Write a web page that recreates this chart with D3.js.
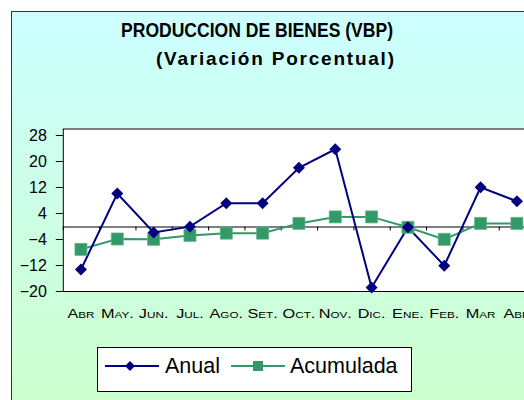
<!DOCTYPE html>
<html>
<head>
<meta charset="utf-8">
<script src="https://cdn.jsdelivr.net/npm/d3@7"></script>
<style>
  body { margin: 0; background: #fff; }
  svg { display: block; font-family: Arial, "Liberation Sans", sans-serif; }
  .y-axis text { font-size: 16px; fill: #000; }
  .x-labels text { font-size: 12.5px; font-variant: small-caps; fill: #000; }
</style>
</head>
<body>
<svg id="chart" width="524" height="400"></svg>
<script>
const months = ['Abr', 'May.', 'Jun.', 'Jul.', 'Ago.', 'Set.', 'Oct.', 'Nov.', 'Dic.', 'Ene.', 'Feb.', 'Mar', 'Abr'];
const anual = [-13.4, 10, -2, -0.2, 7, 7, 17.9, 23.6, -18.9, -0.4, -12.2, 11.9, 7.6];
const acumulada = [-7.2, -4, -4.1, -2.9, -2.2, -2.2, 0.8, 2.8, 2.8, -0.4, -4.1, 0.8, 0.8];
const yTicks = [-20, -12, -4, 4, 12, 20, 28];

const navy = '#000080';
const green = '#339966';

const plot = { left: 62.8, top: 128.5, bottom: 291, band: 36.33 };

const svg = d3.select('#chart');

// background frame with gradient
const defs = svg.append('defs');
const grad = defs.append('linearGradient')
  .attr('id', 'bg').attr('x1', 0).attr('y1', 0).attr('x2', 0).attr('y2', 1);
grad.append('stop').attr('offset', '0%').attr('stop-color', '#ccffff');
grad.append('stop').attr('offset', '100%').attr('stop-color', '#ccffcc');

svg.append('rect')
  .attr('x', 11.5).attr('y', 11.5)
  .attr('width', 540).attr('height', 400)
  .attr('fill', 'url(#bg)')
  .attr('stroke', '#333').attr('stroke-width', 1);

// title
svg.append('text')
  .attr('x', 121).attr('y', 37)
  .attr('textLength', 272).attr('lengthAdjust', 'spacingAndGlyphs')
  .style('font-size', '20px').style('font-weight', 'bold')
  .text('PRODUCCION DE BIENES (VBP)');
svg.append('text')
  .attr('x', 156).attr('y', 65)
  .attr('textLength', 238).attr('lengthAdjust', 'spacing')
  .style('font-size', '19px').style('font-weight', 'bold')
  .text('(Variación Porcentual)');

// scales
const x = d3.scaleBand()
  .domain(d3.range(months.length))
  .range([plot.left, plot.left + months.length * plot.band]);
const xEdge = d3.scaleLinear()
  .domain([0, months.length])
  .range(x.range());
const y = d3.scaleLinear()
  .domain([-20, 30])
  .range([plot.bottom, plot.top]);
const cx = (i) => x(i) + x.bandwidth() / 2;

// plot area
svg.append('rect')
  .attr('x', plot.left).attr('y', plot.top)
  .attr('width', months.length * plot.band).attr('height', plot.bottom - plot.top)
  .attr('fill', '#fff');
svg.append('line')
  .attr('x1', plot.left).attr('x2', 524)
  .attr('y1', plot.top + 0.5).attr('y2', plot.top + 0.5)
  .attr('stroke', '#000');
svg.append('line')
  .attr('x1', plot.left).attr('x2', 524)
  .attr('y1', plot.bottom + 0.5).attr('y2', plot.bottom + 0.5)
  .attr('stroke', '#000');

// y axis
const gY = svg.append('g')
  .attr('class', 'y-axis')
  .attr('transform', `translate(${plot.left},0)`)
  .call(d3.axisLeft(y).tickValues(yTicks).tickSize(7).tickPadding(9).tickSizeOuter(0));
gY.select('.domain').attr('stroke', '#000');
gY.selectAll('.tick line').attr('stroke', '#000');

// zero axis with ticks between categories
const gZero = svg.append('g')
  .attr('transform', `translate(0,${Math.round(y(0)) + 0.5})`)
  .call(d3.axisBottom(xEdge).tickValues(d3.range(months.length + 1)).tickFormat('').tickSize(4).tickSizeOuter(0));
gZero.select('.domain').attr('stroke', '#000');
gZero.selectAll('.tick line').attr('stroke', '#000');

// category labels (stretched a bit wider, like the original)
const gX = svg.append('g')
  .attr('class', 'x-labels')
  .attr('transform', `translate(0,${plot.bottom})`)
  .call(d3.axisBottom(x).tickSize(0).tickFormat((i) => months[i]));
gX.select('.domain').remove();
gX.selectAll('text')
  .attr('y', 27).attr('dy', 0)
  .each(function () {
    const w = this.getComputedTextLength();
    d3.select(this).attr('textLength', w * 1.3).attr('lengthAdjust', 'spacingAndGlyphs');
  });

// lines
const line = (vals) => d3.line()
  .x((d, i) => cx(i))
  .y((d) => y(d))(vals);

svg.append('path')
  .attr('d', line(acumulada))
  .attr('fill', 'none').attr('stroke', green).attr('stroke-width', 2);
svg.append('path')
  .attr('d', line(anual))
  .attr('fill', 'none').attr('stroke', navy).attr('stroke-width', 2);

const square = d3.symbol().type(d3.symbolSquare);

svg.append('g').selectAll('path')
  .data(acumulada)
  .join('path')
  .attr('d', square.size(144))
  .attr('transform', (d, i) => `translate(${cx(i)},${y(d)})`)
  .attr('fill', green).attr('stroke', '#5fb386').attr('stroke-width', 0.8);

svg.append('g').selectAll('path')
  .data(anual)
  .join('path')
  .attr('d', square.size(72))
  .attr('transform', (d, i) => `translate(${cx(i)},${y(d)}) rotate(45)`)
  .attr('fill', navy);

// legend
const legend = svg.append('g');
legend.append('rect')
  .attr('x', 97.5).attr('y', 347.5).attr('width', 314).attr('height', 44)
  .attr('fill', '#fff').attr('stroke', '#000');
legend.append('line')
  .attr('x1', 105).attr('x2', 159).attr('y1', 366).attr('y2', 366)
  .attr('stroke', navy).attr('stroke-width', 2);
legend.append('path')
  .attr('d', square.size(50))
  .attr('transform', 'translate(130,366) rotate(45)')
  .attr('fill', navy);
legend.append('text')
  .attr('x', 165).attr('y', 373)
  .style('font-size', '21.5px')
  .text('Anual');
legend.append('line')
  .attr('x1', 231).attr('x2', 285).attr('y1', 366).attr('y2', 366)
  .attr('stroke', green).attr('stroke-width', 2);
legend.append('path')
  .attr('d', square.size(100))
  .attr('transform', 'translate(258,366)')
  .attr('fill', green);
legend.append('text')
  .attr('x', 290).attr('y', 373)
  .style('font-size', '21.5px')
  .text('Acumulada');
</script>
</body>
</html>
